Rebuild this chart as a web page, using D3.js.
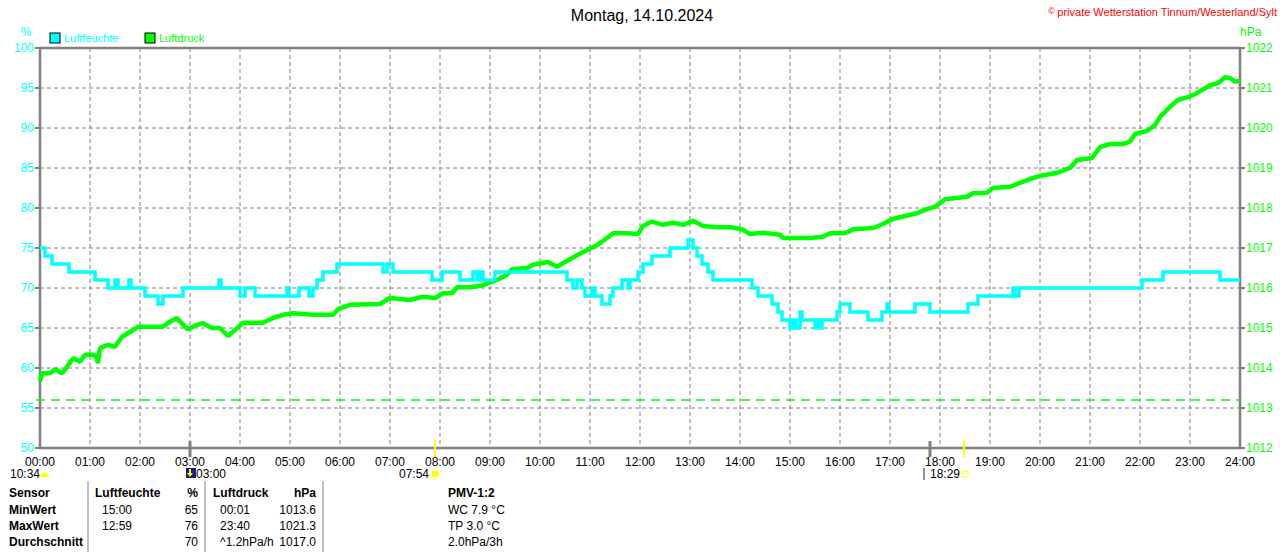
<!DOCTYPE html>
<html>
<head>
<meta charset="utf-8">
<script src="https://cdn.jsdelivr.net/npm/d3@7"></script>
<style>
body{margin:0;background:#fff;}
svg{display:block;font-family:"Liberation Sans",Arial,sans-serif;}
</style>
</head>
<body>
<div id="chart"></div>
<script>
// humidity (%) - change points, hour of day -> value (step line)
let humTime=[0,0.10,0.24,0.58,1.10,1.36,1.50,1.56,1.78,1.82,2.10,2.36,2.46,2.86,3.58,3.62,4.00,4.10,4.30,4.94,4.98,5.18,5.38,5.46,5.54,5.66,5.94,6.86,6.94,7.06,7.84,8.04,8.40,8.66,8.74,8.80,8.86,9.10,10.54,10.66,10.74,10.84,10.90,11.04,11.10,11.24,11.40,11.46,11.64,11.76,11.80,11.96,12.06,12.24,12.60,12.96,13.06,13.14,13.24,13.36,13.46,14.24,14.36,14.64,14.76,14.84,15.00,15.06,15.12,15.20,15.24,15.50,15.56,15.62,15.64,15.94,16.00,16.20,16.56,16.84,16.94,16.98,17.50,17.80,18.56,18.76,19.46,19.50,19.58,22.04,22.46,23.60,24.00]
let humValue=[75,74,73,72,71,70,71,70,71,70,69,68,69,70,71,70,69,70,69,70,69,70,69,70,71,72,73,72,73,72,71,72,71,72,71,72,71,72,71,70,71,70,69,70,69,68,69,70,71,70,71,72,73,74,75,76,75,74,73,72,71,70,69,68,67,66,65,66,65,67,66,65,66,65,66,67,68,67,66,67,68,67,68,67,68,69,70,69,70,71,72,71,71]

// air pressure (hPa)
let presTime=[0,0.04,0.20,0.30,0.44,0.54,0.66,0.80,0.90,1.06,1.12,1.16,1.20,1.36,1.50,1.64,1.80,1.96,2.14,2.46,2.60,2.74,2.86,2.96,3.14,3.26,3.44,3.60,3.76,3.90,4.06,4.46,4.66,4.86,5.06,5.46,5.86,5.96,6.20,6.80,7.00,7.40,7.66,7.90,8.06,8.24,8.34,8.60,8.86,9.14,9.34,9.44,9.74,9.86,10.16,10.34,10.50,10.74,10.94,11.14,11.34,11.46,11.74,11.96,12.06,12.24,12.46,12.66,12.86,13.06,13.26,13.54,13.80,14.04,14.20,14.46,14.80,14.86,15.40,15.66,15.80,16.06,16.16,16.26,16.66,16.86,17.04,17.30,17.54,17.74,17.90,18.10,18.54,18.66,18.94,19.06,19.40,19.60,19.80,20.00,20.34,20.60,20.74,21.04,21.20,21.40,21.66,21.80,21.90,22.14,22.30,22.40,22.60,22.76,22.96,23.14,23.40,23.56,23.70,23.80,23.90,24.00]
let presValue=[1013.66,1013.87,1013.87,1013.97,1013.87,1014.03,1014.24,1014.16,1014.33,1014.33,1014.30,1014.12,1014.50,1014.58,1014.53,1014.78,1014.90,1015.03,1015.03,1015.03,1015.16,1015.25,1015.08,1014.97,1015.08,1015.12,1015.00,1015.00,1014.80,1014.95,1015.13,1015.13,1015.25,1015.33,1015.37,1015.33,1015.33,1015.47,1015.58,1015.60,1015.75,1015.70,1015.78,1015.75,1015.87,1015.87,1016.02,1016.02,1016.07,1016.20,1016.33,1016.47,1016.50,1016.58,1016.65,1016.53,1016.65,1016.82,1016.95,1017.07,1017.25,1017.37,1017.37,1017.35,1017.55,1017.66,1017.58,1017.63,1017.58,1017.68,1017.55,1017.52,1017.52,1017.47,1017.35,1017.38,1017.33,1017.25,1017.25,1017.28,1017.37,1017.37,1017.40,1017.47,1017.50,1017.60,1017.72,1017.80,1017.87,1017.97,1018.03,1018.22,1018.28,1018.37,1018.38,1018.50,1018.53,1018.63,1018.72,1018.80,1018.88,1019.00,1019.20,1019.25,1019.52,1019.60,1019.60,1019.66,1019.85,1019.93,1020.07,1020.28,1020.53,1020.70,1020.77,1020.87,1021.07,1021.12,1021.27,1021.25,1021.16,1021.18]
let presRef=1013.2

// axis ticks
let hourTicks=["00:00","01:00","02:00","03:00","04:00","05:00","06:00","07:00","08:00","09:00","10:00","11:00","12:00","13:00","14:00","15:00","16:00","17:00","18:00","19:00","20:00","21:00","22:00","23:00","24:00"]
let humTicks=[50,55,60,65,70,75,80,85,90,95,100]
let presTicks=[1012,1013,1014,1015,1016,1017,1018,1019,1020,1021,1022]

// sun / moon markers (hour of day)
let moonRise=10+34/60, moonEvent=3, sunRise=7+54/60, sunSet=18+29/60, moonSet=17.8

// table below the chart
let tableHead=["Sensor","Luftfeuchte","%","Luftdruck","hPa","PMV-1:2"]
let tableRows=[
  ["MinWert","15:00","65","00:01","1013.6","WC 7.9 °C"],
  ["MaxWert","12:59","76","23:40","1021.3","TP 3.0 °C"],
  ["Durchschnitt","","70","^1.2hPa/h","1017.0","2.0hPa/3h"]
]

var cyan='#00ffff', green='#00ff00', gray='#808080'
var W=1280, H=552

var svg=d3.select('#chart').append('svg').attr('width',W).attr('height',H)

var x=d3.scaleLinear().domain([0,24]).range([40,1240])
var yH=d3.scaleLinear().domain([50,100]).range([448,48])
var yP=d3.scaleLinear().domain([1012,1022]).range([448,48])

// title + copyright
svg.append('text').text('Montag, 14.10.2024').attr('x',642).attr('y',21).attr('text-anchor','middle').style('font-size','16px').style('fill','#000')
var cp=svg.append('text').attr('x',1277).attr('y',16).attr('text-anchor','end').style('font-size','11px').style('fill','#ff0000')
cp.append('tspan').text('© ').style('font-size','9px').attr('dy','-2')
cp.append('tspan').text('private Wetterstation Tinnum/Westerland/Sylt').attr('dy','2')

// legend
svg.append('rect').attr('x',50).attr('y',33).attr('width',10).attr('height',10).attr('fill',cyan).attr('stroke','#000')
svg.append('text').text('Luftfeuchte').attr('x',64).attr('y',42).style('font-size','11px').style('fill',cyan)
svg.append('rect').attr('x',145).attr('y',33).attr('width',10).attr('height',10).attr('fill',green).attr('stroke','#000')
svg.append('text').text('Luftdruck').attr('x',159).attr('y',42).style('font-size','11px').style('fill',green)

// grid
svg.selectAll('.vgrid').data(hourTicks.slice(1,-1)).enter().append('line')
  .attr('x1',function(d,i){return x(i+1)}).attr('x2',function(d,i){return x(i+1)})
  .attr('y1',yH(100)).attr('y2',yH(50))
  .attr('stroke',gray).attr('stroke-dasharray','4,3')
svg.selectAll('.hgrid').data(humTicks.slice(1,-1)).enter().append('line')
  .attr('x1',x(0)).attr('x2',x(24))
  .attr('y1',function(d){return yH(d)}).attr('y2',function(d){return yH(d)})
  .attr('stroke',gray).attr('stroke-dasharray','4,3')

// left axis (%)
svg.selectAll('.ltick').data(humTicks).enter().append('line')
  .attr('x1',35).attr('x2',x(0)).attr('y1',function(d){return yH(d)}).attr('y2',function(d){return yH(d)}).attr('stroke',gray).attr('stroke-width',2)
svg.selectAll('.llab').data(humTicks).enter().append('text').text(function(d){return d})
  .attr('x',34).attr('y',function(d){return yH(d)}).attr('dy','.35em').attr('text-anchor','end')
  .style('font-size','12px').style('fill',cyan)
svg.append('text').text('%').attr('x',26).attr('y',36).attr('text-anchor','middle').style('font-size','12px').style('fill',cyan)

// right axis (hPa)
svg.selectAll('.rtick').data(presTicks).enter().append('line')
  .attr('x1',x(24)).attr('x2',1245).attr('y1',function(d){return yP(d)}).attr('y2',function(d){return yP(d)}).attr('stroke',gray).attr('stroke-width',2)
svg.selectAll('.rlab').data(presTicks).enter().append('text').text(function(d){return d})
  .attr('x',1246).attr('y',function(d){return yP(d)}).attr('dy','.35em')
  .style('font-size','12px').style('fill',green)
svg.append('text').text('hPa').attr('x',1240).attr('y',36).style('font-size','12px').style('fill',green)

// x labels
svg.selectAll('.xlab').data(hourTicks).enter().append('text').text(function(d){return d})
  .attr('x',function(d,i){return x(i)}).attr('y',462).attr('dy','.35em').attr('text-anchor','middle')
  .style('font-size','12px').style('fill','#000')

// frame
svg.append('rect').attr('x',x(0)).attr('y',yH(100)).attr('width',x(24)-x(0)).attr('height',yH(50)-yH(100))
  .attr('fill','none').attr('stroke',gray).attr('stroke-width',2.5)

// reference pressure line
svg.append('line').attr('x1',36).attr('x2',x(24)).attr('y1',yP(presRef)).attr('y2',yP(presRef))
  .attr('stroke',green).attr('stroke-width',1.5).attr('stroke-dasharray','9,6')

// pressure line
var pres=presTime.map(function(t,i){return [t,presValue[i]]})
svg.append('path').datum(pres)
  .attr('d',d3.line().x(function(d){return x(d[0])}).y(function(d){return yP(d[1])}))
  .attr('fill','none').attr('stroke',green).attr('stroke-width',4.5).attr('stroke-linejoin','bevel')

// humidity step line
var hum=humTime.map(function(t,i){return [t,humValue[i]]})
svg.append('path').datum(hum)
  .attr('d',d3.line().curve(d3.curveStepAfter).x(function(d){return x(d[0])}).y(function(d){return yH(d[1])}))
  .attr('fill','none').attr('stroke',cyan).attr('stroke-width',3.5)

// sun & moon ticks on the x axis
svg.append('line').attr('x1',x(moonEvent)).attr('x2',x(moonEvent)).attr('y1',441).attr('y2',457).attr('stroke',gray).attr('stroke-width',3)
svg.append('line').attr('x1',x(moonSet)).attr('x2',x(moonSet)).attr('y1',441).attr('y2',457).attr('stroke',gray).attr('stroke-width',3)
svg.append('line').attr('x1',x(sunRise)).attr('x2',x(sunRise)).attr('y1',440).attr('y2',457).attr('stroke','#ffff00').attr('stroke-width',2)
svg.append('line').attr('x1',x(sunSet)).attr('x2',x(sunSet)).attr('y1',440).attr('y2',457).attr('stroke','#ffff00').attr('stroke-width',2)

// markers under the axis
svg.append('text').text('10:34').attr('x',10).attr('y',478).style('font-size','12px')
svg.append('path').attr('d','M40,477 A4.5,4.5 0 0 1 49,477 Z').attr('fill','#ffff00')
svg.append('rect').attr('x',186).attr('y',468).attr('width',10).attr('height',10).attr('fill','#1a1a80')
svg.append('path').attr('d','M189,469 L191,469 L191,473 L193,473 L190,477 L187,473 L189,473 Z').attr('fill','#ffff00')
svg.append('text').text('03:00').attr('x',196).attr('y',478).style('font-size','12px')
svg.append('text').text('07:54').attr('x',429).attr('y',478).attr('text-anchor','end').style('font-size','12px')
var sx=x(sunRise), sy=474
svg.append('circle').attr('cx',sx).attr('cy',sy).attr('r',3.5).attr('fill','#ffff00')
svg.append('circle').attr('cx',sx).attr('cy',sy).attr('r',5.5).attr('fill','none').attr('stroke','#ffff00').attr('stroke-width',1).attr('stroke-dasharray','1.5,1.5')
svg.append('line').attr('x1',924).attr('x2',924).attr('y1',468).attr('y2',480).attr('stroke','#1a1a80').attr('stroke-width',1)
svg.append('text').text('18:29').attr('x',930).attr('y',478).style('font-size','12px')
svg.append('rect').attr('x',962).attr('y',471).attr('width',6).attr('height',6).attr('fill','none').attr('stroke','#ffff00').attr('stroke-width',1)

// table
var sepX=[88,205,323]
svg.selectAll('.sep').data(sepX).enter().append('line')
  .attr('x1',function(d){return d}).attr('x2',function(d){return d}).attr('y1',481).attr('y2',552)
  .attr('stroke',gray).attr('stroke-width',1)
var rowY=[497,514,530,546]
var colX=[9,95,198,213,316,448]
var colAnchor=['start','start','end','start','end','start']
svg.selectAll('.th').data(tableHead).enter().append('text').text(function(d){return d})
  .attr('x',function(d,i){return colX[i]}).attr('y',rowY[0]).attr('text-anchor',function(d,i){return colAnchor[i]})
  .style('font-size','12px').style('font-weight','bold')
tableRows.forEach(function(row,r){
  svg.selectAll('.tr'+r).data(row).enter().append('text').text(function(d){return d})
    .attr('x',function(d,i){return i==0?colX[0]:(i==1||i==3?colX[i]+7:colX[i])}).attr('y',rowY[r+1])
    .attr('text-anchor',function(d,i){return colAnchor[i]})
    .style('font-size','12px').style('font-weight',function(d,i){return i==0?'bold':'normal'})
})
</script>
</body>
</html>
